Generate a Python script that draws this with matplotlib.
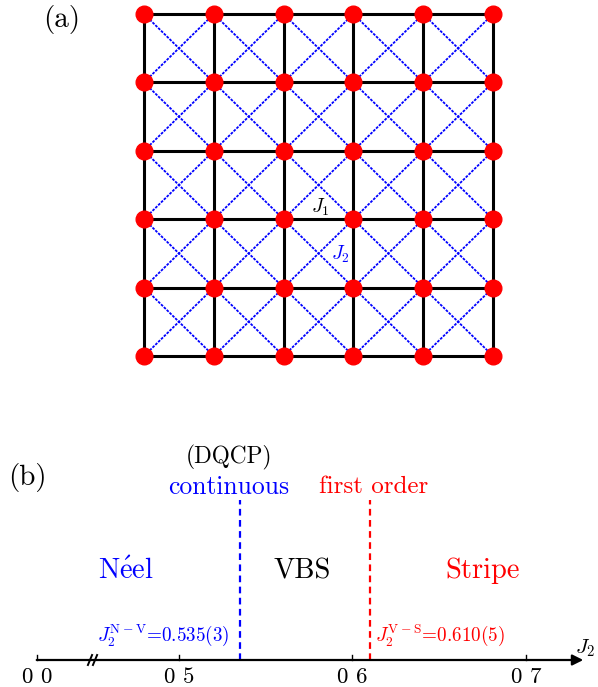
import numpy as np
import matplotlib
matplotlib.use("Agg")
import matplotlib.pyplot as plt

plt.rcParams['font.family'] = 'serif'
plt.rcParams['font.serif'] = ['cmr10']
plt.rcParams['mathtext.fontset'] = 'cm'
plt.rcParams['axes.unicode_minus'] = False

# lattice size (sites per side)
n_sites = 6

# phase diagram data
j2_nv = 0.535      # Neel -> VBS transition
j2_vs = 0.610      # VBS -> Stripe transition
tick_vals = [0.0, 0.5, 0.6, 0.7]
tick_labels = ['0 0', '0 5', '0 6', '0 7']
phases = ['N\u00e9el', 'VBS', 'Stripe']
phase_colors = ['blue', 'black', 'red']

# the axis is broken between 0 and 0.5, so 0.0 is drawn here
zero_pos = 0.418
x_end = 0.733

fig = plt.figure(figsize=(5.98, 6.87), dpi=100)

# ---------------- (a) J1-J2 square lattice ----------------
ax1 = fig.add_axes([144/598, 1-356/687, 349/598, 342/687])
ax1.set_xlim(0, n_sites-1)
ax1.set_ylim(0, n_sites-1)
ax1.axis('off')

# J2 diagonals
for i in range(n_sites-1):
    for j in range(n_sites-1):
        ax1.plot([i, i+1], [j, j+1], color='blue', lw=1.3,
                 ls=(0, (1.5, 0.7)), clip_on=False, zorder=1)
        ax1.plot([i, i+1], [j+1, j], color='blue', lw=1.3,
                 ls=(0, (1.5, 0.7)), clip_on=False, zorder=1)

# J1 bonds
for k in range(n_sites):
    ax1.plot([0, n_sites-1], [k, k], color='black', lw=2.2, clip_on=False, zorder=2)
    ax1.plot([k, k], [0, n_sites-1], color='black', lw=2.2, clip_on=False, zorder=2)

# sites
gx, gy = np.meshgrid(np.arange(n_sites), np.arange(n_sites))
ax1.plot(gx.ravel(), gy.ravel(), 'o', color='red', ms=12, mec='red',
         clip_on=False, zorder=3)

ax1.text(2.52, 2.17, r'$J_1$', fontsize=14, ha='center', va='center', zorder=4)
ax1.text(2.82, 1.48, r'$J_2$', fontsize=14, color='blue', ha='center', va='center', zorder=4)
fig.text(62/598, 1-20/687, '(a)', fontsize=21, ha='center', va='center')

# ---------------- (b) phase diagram ----------------
ax2 = fig.add_axes([0, 0, 1, 260/687])
ax2.set_xlim(0.39683, 0.74150)
ax2.set_ylim(-27, 233)
ax2.axis('off')

# J2 axis with arrow
ax2.annotate('', xy=(x_end, 0), xytext=(zero_pos, 0),
             arrowprops=dict(arrowstyle='-|>', lw=1.6, color='black',
                             mutation_scale=16, shrinkA=0, shrinkB=0))
ax2.text(x_end - 0.005, 12, r'$J_2$', fontsize=15, ha='left', va='center')

# ticks and labels
tick_pos = [zero_pos] + tick_vals[1:]
for p, lab in zip(tick_pos, tick_labels):
    ax2.plot([p, p], [0, 5], color='black', lw=1.0)
    ax2.text(p, -17, lab, fontsize=16.5, ha='center', va='center')

# axis break
for xb in (0.4487, 0.4516):
    ax2.plot([xb - 0.0012, xb + 0.0012], [-5, 5], color='black', lw=1.4)

# transitions
ax2.plot([j2_nv, j2_nv], [0, 160], color='blue', lw=1.6, ls=(0, (3, 2)))
ax2.plot([j2_vs, j2_vs], [0, 160], color='red', lw=1.6, ls=(0, (3, 2)))

ax2.text(0.5288, 203, '(DQCP)', fontsize=16.8, ha='center', va='center')
ax2.text(0.5288, 173, 'continuous', fontsize=18.4, color='blue', ha='center', va='center')
ax2.text(0.6124, 173, 'first order', fontsize=18, color='red', ha='center', va='center')

phase_x = [0.4695, 0.5709, 0.6752]
for x, name, c in zip(phase_x, phases, phase_colors):
    if name.startswith('N'):
        label = r'$\mathrm{N\acute{e}el}$'
    else:
        label = name
    ax2.text(x, 89, label, fontsize=20.5, color=c, ha='center', va='center')

ax2.text(0.4527, 25, r'$J_2^{\rm N-V}$=' + f'{j2_nv:.3f}(3)', fontsize=13.8,
         color='blue', ha='left', va='center')
ax2.text(0.6130, 25, r'$J_2^{\rm V-S}$=' + f'{j2_vs:.3f}(5)', fontsize=13.8,
         color='red', ha='left', va='center')

fig.text(27/598, 1-478/687, '(b)', fontsize=21, ha='center', va='center')

fig.savefig('out.png', dpi=100)
